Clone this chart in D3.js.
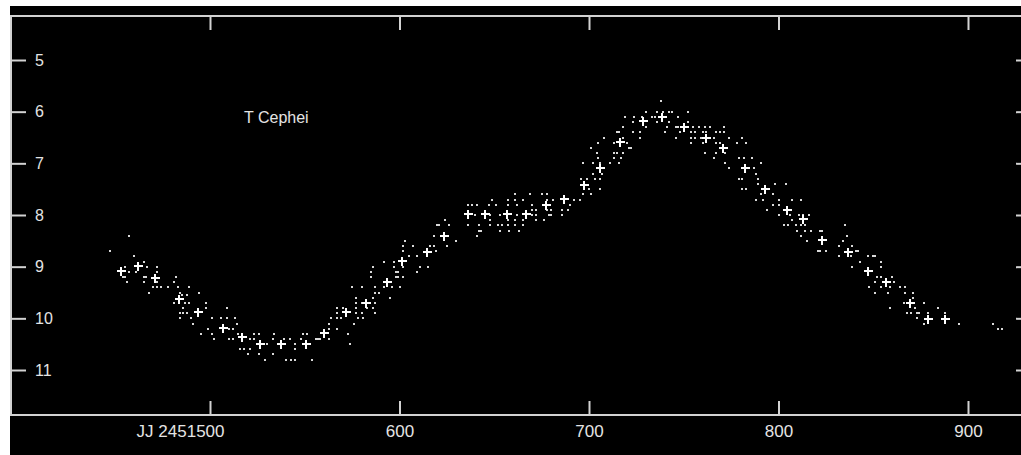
<!DOCTYPE html>
<html>
<head>
<meta charset="utf-8">
<script src="https://cdn.jsdelivr.net/npm/d3@7"></script>
<style>
  body { margin: 0; background: #fff; }
  svg { display: block; }
  text { font-family: "Liberation Sans", Arial, sans-serif; fill: #e4e4e4; }
</style>
</head>
<body>
<svg id="chart"></svg>
<script>
// days are JD - 2451000, magnitudes visual
const xTicks = [500, 600, 700, 800, 900];
const xTickLabels = ["JJ 2451500", "600", "700", "800", "900"];
const yTicks = [5, 6, 7, 8, 9, 10, 11];
const starName = "T Cephei";

// individual observations
const observations = [
  [457,8.4],[447,8.7],[460,8.8],[465,8.9],[455,9.0],[467,9.0],[472,9.0],[457,9.1],[461,9.1],[472,9.1],
  [454,9.2],[455,9.2],[465,9.2],[466,9.2],[456,9.3],[465,9.3],[472,9.3],[470,9.4],[472,9.4],[474,9.4],
  [478,9.4],[482,9.2],[481,9.3],[483,9.4],[489,9.4],[468,9.5],[484,9.5],[494,9.5],[485,9.55],[488,9.55],
  [481,9.7],[487,9.7],[489,9.7],[498,9.7],[486,9.8],[498,9.8],[484,9.9],[486,9.9],[488,9.9],[484,10.0],
  [490,10.0],[501,10.0],[506,10.0],[509,10.0],[513,10.0],[509,9.8],[491,10.1],[514,10.1],[499,10.2],[510,10.2],
  [512,10.2],[495,10.3],[501,10.3],[515,10.3],[517,10.3],[523,10.3],[526,10.3],[534,10.3],[549,10.3],[551,10.3],
  [502,10.4],[510,10.4],[512,10.4],[521,10.4],[523,10.4],[533,10.4],[539,10.4],[542,10.4],[548,10.4],[563,10.4],
  [556,10.4],[557,10.4],[558,10.4],[530,10.5],[545,10.5],[553,10.5],[573,10.3],[563,10.2],[567,10.2],[516,10.6],
  [518,10.6],[521,10.6],[545,10.6],[520,10.7],[526,10.7],[533,10.7],[529,10.8],[540,10.8],[543,10.8],[545,10.8],
  [554,10.8],[574,10.5],[576,10.1],[563,10.1],[567,10.0],[564,10.0],[569,10.0],[578,10.0],[581,10.0],[567,9.8],
  [570,9.8],[577,9.8],[583,9.8],[567,9.9],[577,9.9],[580,9.9],[575,9.4],[580,9.4],[577,9.6],[577,9.7],[580,9.7],
  [587,9.9],[586,9.8],[587,9.7],[586,9.6],[587,9.5],[589,9.5],[587,9.4],[585,9.2],[586,9.0],[585,9.1],
  [595,9.6],[592,9.4],[596,9.4],[600,9.4],[598,9.2],[599,9.2],[602,9.2],[598,9.1],[599,9.1],[609,9.1],
  [597,9.0],[602,9.0],[611,9.0],[615,9.0],[592,8.9],[597,8.9],[605,8.8],[609,8.8],[602,8.7],[619,8.7],
  [602,8.6],[607,8.6],[616,8.6],[618,8.6],[603,8.5],[625,8.6],[630,8.5],[618,8.4],[620,8.2],[621,8.2],
  [626,8.2],[624,8.1],[636,7.8],[638,7.8],[641,7.8],[636,8.2],[642,8.2],[640,8.0],[648,8.0],[642,8.3],
  [643,8.3],[641,8.4],[647,7.8],[651,7.8],[657,7.8],[662,7.8],[670,7.8],[648,8.1],[657,8.1],[661,8.1],
  [665,8.1],[672,8.1],[676,8.1],[648,8.2],[652,8.2],[654,8.2],[657,8.2],[661,8.2],[665,8.2],[653,8.3],
  [658,8.3],[663,8.3],[653,8.0],[662,8.0],[670,8.0],[672,8.0],[679,8.0],[680,8.0],[657,7.7],[661,7.6],
  [661,7.7],[665,7.7],[649,7.7],[670,7.9],[672,7.9],[678,7.9],[680,7.9],[686,7.9],[689,7.9],[669,7.6],
  [675,7.6],[678,7.6],[681,7.7],[678,7.7],[686,8.0],[690,7.8],[695,7.7],[692,7.7],
  [738,5.8],[730,6.0],[736,6.0],[739,6.0],[742,6.0],[744,6.0],[752,6.0],[719,6.1],[724,6.1],[728,6.1],
  [733,6.1],[735,6.1],[747,6.1],[723,6.2],[736,6.2],[742,6.2],[752,6.2],[718,6.3],[730,6.3],[741,6.3],
  [746,6.3],[747,6.3],[715,6.4],[716,6.4],[723,6.4],[727,6.4],[740,6.4],[748,6.4],[754,6.4],[756,6.4],
  [760,6.4],[762,6.4],[767,6.4],[769,6.4],[771,6.4],[755,6.3],[758,6.3],[761,6.3],[764,6.3],[771,6.3],
  [708,6.5],[718,6.5],[727,6.5],[746,6.5],[754,6.5],[756,6.5],[759,6.5],[766,6.5],[774,6.5],[705,6.6],
  [713,6.6],[720,6.6],[754,6.6],[760,6.6],[767,6.6],[769,6.6],[778,6.6],[783,6.6],[781,6.5],[701,6.7],
  [721,6.7],[722,6.7],[704,6.8],[713,6.8],[715,6.8],[718,6.8],[761,6.8],[767,6.8],[772,6.8],[705,6.9],
  [713,6.9],[717,6.9],[697,7.0],[702,7.0],[706,7.0],[711,7.0],[716,7.0],[766,6.9],[772,7.0],[774,7.1],
  [702,7.2],[707,7.2],[703,7.3],[706,7.3],[696,7.3],[699,7.3],[700,7.5],[706,7.5],[697,7.6],[701,7.6],
  [779,6.9],[782,6.9],[786,6.9],[791,7.0],[779,7.3],[781,7.3],[787,7.1],[788,7.2],[789,7.3],[781,7.5],
  [783,7.5],[789,7.4],[791,7.6],[798,7.4],[804,7.4],[788,7.7],[792,7.7],[797,7.6],[800,7.7],[807,7.7],
  [812,7.7],[797,7.8],[800,7.8],[794,7.9],[800,8.0],[806,8.0],[811,8.0],[813,8.0],[816,8.0],[807,8.1],
  [809,8.2],[812,8.2],[814,8.2],[803,8.2],[805,8.2],
  [810,8.3],[814,8.3],[817,8.3],[822,8.3],[823,8.3],[812,8.4],[815,8.5],[835,8.2],[836,8.4],[834,8.5],
  [821,8.7],[822,8.7],[825,8.7],[832,8.6],[839,8.6],[832,8.8],[838,8.8],[847,8.8],[850,8.8],[851,8.8],
  [841,8.7],[842,8.7],[839,9.0],[843,8.9],[854,9.0],[854,8.9],[852,9.2],[854,9.2],[860,9.2],[851,9.3],
  [861,9.3],[848,9.4],[854,9.4],[859,9.4],[864,9.4],[867,9.4],[851,9.5],[858,9.5],[867,9.5],[871,9.5],
  [871,9.6],[866,9.7],[877,9.7],[859,9.8],[872,9.8],[884,9.8],[868,9.9],[870,9.9],[873,9.9],[874,9.9],
  [879,9.9],[888,9.9],[873,10.0],[877,10.1],[895,10.1],[913,10.1],[916,10.2],[918,10.2]
];

// ten-day means
const means = [
  [453,9.08],[462,8.99],[471,9.21],[483.5,9.62],[493.5,9.88],[507,10.19],[517,10.37],[526.5,10.5],
  [537.5,10.5],[550.7,10.5],[560.3,10.29],[571.6,9.88],[582.2,9.7],[593.2,9.29],[601.2,8.89],[614.4,8.71],
  [623.6,8.41],[636.3,7.99],[645.1,7.99],[656.9,7.99],[666.8,7.99],[677.2,7.81],[687,7.69],[697.4,7.42],
  [705.8,7.1],[716.4,6.59],[728.3,6.19],[738.7,6.11],[750.1,6.29],[761.6,6.5],[770.6,6.71],[782.3,7.1],
  [792.9,7.5],[804.6,7.91],[812.8,8.08],[823,8.48],[836.5,8.71],[847.1,9.08],[856.7,9.3],[869.4,9.7],
  [878.7,10.01],[888,10.01]
];

const width = 1021;
const height = 455;
const frame = { left: 11, top: 16, right: 1031, bottom: 415 };
const axisColor = "#d2d2d2";

const svg = d3.select("#chart")
  .attr("width", width)
  .attr("height", height);

svg.append("rect")
  .attr("x", 10).attr("y", 6)
  .attr("width", width - 10).attr("height", height - 6)
  .attr("fill", "#000");

const x = d3.scaleLinear().domain([500, 900]).range([210, 968]);
const y = d3.scaleLinear().domain([5, 11]).range([60, 370]);

// frame
svg.append("rect")
  .attr("x", frame.left).attr("y", frame.top)
  .attr("width", frame.right - frame.left)
  .attr("height", frame.bottom - frame.top)
  .attr("fill", "none")
  .attr("stroke", axisColor)
  .attr("stroke-width", 2);

function styleAxis(g) {
  g.select(".domain").remove();
  g.selectAll(".tick line").attr("stroke", axisColor).attr("stroke-width", 2);
  g.selectAll(".tick text").attr("fill", "#e4e4e4");
}

const xBottom = svg.append("g")
  .attr("transform", `translate(0,${frame.bottom})`)
  .call(d3.axisBottom(x).tickValues(xTicks)
    .tickFormat((d, i) => xTickLabels[i])
    .tickSize(-14).tickPadding(10))
  .call(styleAxis);
xBottom.selectAll("text").attr("font-size", "17px").style("font-family", null);
xBottom.select(".tick text").attr("text-anchor", "end").attr("x", 14);

svg.append("g")
  .attr("transform", `translate(0,${frame.top})`)
  .call(d3.axisTop(x).tickValues(xTicks).tickFormat("").tickSize(-14))
  .call(styleAxis);

const yLeft = svg.append("g")
  .attr("transform", `translate(${frame.left},0)`)
  .call(d3.axisRight(y).tickValues(yTicks).tickFormat(d3.format("d"))
    .tickSize(15).tickPadding(9))
  .call(styleAxis);
yLeft.selectAll("text").attr("font-size", "16px");

svg.append("g")
  .attr("transform", `translate(${frame.right},0)`)
  .call(d3.axisLeft(y).tickValues(yTicks).tickFormat("").tickSize(15))
  .call(styleAxis);

svg.selectAll("g text").attr("font-family", null);

// observations
svg.append("g")
  .selectAll("rect")
  .data(observations)
  .join("rect")
  .attr("x", d => Math.round(x(d[0])) - 1)
  .attr("y", d => Math.round(y(d[1])) - 1)
  .attr("width", 2)
  .attr("height", 2)
  .attr("fill", "#d8d8d8");

// means as crosses
const crosses = svg.append("g")
  .selectAll("g")
  .data(means)
  .join("g")
  .attr("transform", d => `translate(${Math.round(x(d[0]))},${Math.round(y(d[1]))})`);
crosses.append("rect").attr("x", -4).attr("y", -1).attr("width", 9).attr("height", 2).attr("fill", "#fff");
crosses.append("rect").attr("x", -1).attr("y", -4).attr("width", 2).attr("height", 9).attr("fill", "#fff");

svg.append("text")
  .attr("x", 244)
  .attr("y", 123)
  .attr("font-size", "16px")
  .text(starName);
</script>
</body>
</html>
